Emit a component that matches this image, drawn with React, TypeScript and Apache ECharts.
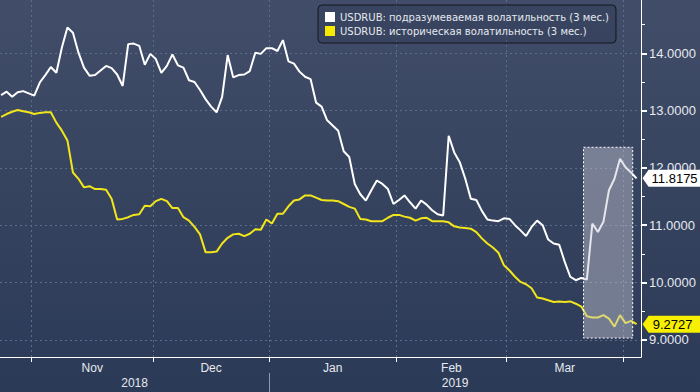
import React, { useEffect, useRef } from 'react';
import * as echarts from 'echarts';

const impliedName = 'USDRUB: подразумеваемая волатильность (3 мес.)';
const histName = 'USDRUB: историческая волатильность (3 мес.)';

// trading days from 24 Oct 2018 to 3 Apr 2019
const impliedVol = [
  13.27, 13.33, 13.24, 13.32, 13.34, 13.30, 13.26, 13.49, 13.62, 13.76,
  13.66, 14.10, 14.45, 14.36, 14.01, 13.75, 13.61, 13.62, 13.70, 13.78,
  13.74, 13.63, 13.43, 14.16, 14.17, 14.13, 13.80, 13.99, 13.90, 13.66,
  13.78, 13.98, 13.79, 13.75, 13.53, 13.50, 13.36, 13.20, 13.07, 12.97,
  13.24, 13.97, 13.58, 13.62, 13.63, 13.69, 14.01, 13.99, 14.09, 14.09,
  14.04, 14.23, 13.86, 13.82, 13.68, 13.59, 13.55, 13.14, 13.07, 12.83,
  12.74, 12.65, 12.29, 12.19, 11.72, 11.54, 11.43, 11.61, 11.78, 11.72,
  11.63, 11.37, 11.44, 11.52, 11.40, 11.29, 11.43, 11.36, 11.26, 11.19,
  11.17, 12.56, 12.27, 12.10, 11.81, 11.46, 11.44, 11.25, 11.10, 11.08,
  11.07, 11.12, 11.11, 11.00, 10.91, 10.81, 10.97, 11.08, 11.00, 10.75,
  10.68, 10.66, 10.36, 10.10, 10.04, 10.08, 10.05, 11.03, 10.88, 11.06,
  11.61, 11.81, 12.16, 12.01, 11.92, 11.8175,
];

const histVol = [
  12.89, 12.94, 12.98, 13.01, 12.99, 12.97, 12.94, 12.96, 12.97, 12.97,
  12.79, 12.65, 12.48, 11.92, 11.81, 11.66, 11.68, 11.63, 11.63, 11.62,
  11.46, 11.10, 11.11, 11.14, 11.18, 11.19, 11.34, 11.33, 11.42, 11.46,
  11.42, 11.30, 11.30, 11.14, 11.08, 10.97, 10.84, 10.53, 10.53, 10.54,
  10.68, 10.78, 10.84, 10.85, 10.81, 10.85, 10.93, 10.92, 11.10, 11.03,
  11.20, 11.20, 11.33, 11.43, 11.45, 11.52, 11.52, 11.48, 11.44, 11.43,
  11.43, 11.42, 11.37, 11.32, 11.29, 11.11, 11.10, 11.07, 11.07, 11.07,
  11.13, 11.18, 11.18, 11.15, 11.13, 11.08, 11.12, 11.13, 11.07, 11.07,
  11.07, 11.05, 10.98, 10.96, 10.95, 10.94, 10.88, 10.77, 10.68, 10.61,
  10.52, 10.30, 10.21, 10.10, 10.01, 9.97, 9.90, 9.74, 9.72, 9.69,
  9.66, 9.67, 9.66, 9.67, 9.63, 9.58, 9.41, 9.39, 9.39, 9.43,
  9.37, 9.23, 9.43, 9.29, 9.33, 9.2727,
];

const monthNames = ['Nov', 'Dec', 'Jan', 'Feb', 'Mar'];
// trading-day index boundaries where each month starts (Nov..Apr)
const monthBounds = [5.5, 27.5, 48.5, 71.5, 91.5, 112.5];
const yearNames = ['2018', '2019'];
const xMin = -0.2;
const xMax = 115.8;
const yearBounds = [xMin, 48.5, xMax];
const yMin = 8.7;
const yMax = 14.93;
const yTicks = [9, 10, 11, 12, 13, 14];
const yMinorTicks = [9.5, 10.5, 11.5, 12.5, 13.5, 14.5];
// highlighted window (trading-day index, value)
const boxFrom = [105.4, 12.36];
const boxTo = [114.3, 9.03];

const FONT = 'Liberation Sans';
const TXT = '#e6e9ef';
const GRIDC = '#5c6d8c';

const monthMids = monthNames.map((_, i) => (monthBounds[i] + monthBounds[i + 1]) / 2);
const yearMids = yearNames.map((_, i) => (yearBounds[i] + yearBounds[i + 1]) / 2);

function nearestName(v: number, mids: number[], names: string[]) {
  let best = 0;
  for (let i = 1; i < mids.length; i++) {
    if (Math.abs(mids[i] - v) < Math.abs(mids[best] - v)) best = i;
  }
  return names[best];
}

const pentagon = 'path://M0,8 L6,0 L60,0 L60,16 L6,16 Z';

export default function App() {
  const ref = useRef<HTMLDivElement>(null);
  useEffect(() => {
    if (!ref.current) return;
    const chart = echarts.init(ref.current, undefined, { renderer: 'svg' });
    const lastIdx = impliedVol.length - 1;
    chart.setOption({
      animation: false,
      backgroundColor: 'transparent',
      grid: { left: 0, right: 59, top: 0, bottom: 35, containLabel: false },
      legend: {
        left: 318,
        top: 5,
        orient: 'vertical',
        icon: 'rect',
        itemWidth: 10,
        itemHeight: 10,
        itemGap: 4,
        padding: [7, 7, 7, 7],
        backgroundColor: 'rgba(50,62,88,0.5)',
        borderColor: '#12161e',
        borderWidth: 1,
        borderRadius: 4,
        selectedMode: false,
        textStyle: { color: TXT, fontSize: 10, fontFamily: 'DejaVu Sans' },
        data: [impliedName, histName],
      },
      xAxis: [
        {
          type: 'value',
          min: xMin,
          max: xMax,
          position: 'bottom',
          axisLine: { show: true, onZero: false, lineStyle: { color: '#ffffff', width: 1 } },
          axisTick: { show: true, customValues: monthBounds, length: 5, lineStyle: { color: '#ffffff' } },
          axisLabel: {
            customValues: monthMids,
            formatter: (v: number) => nearestName(v, monthMids, monthNames),
            color: TXT,
            fontSize: 12,
            fontFamily: FONT,
            margin: 5,
          },
          splitLine: { show: true, lineStyle: { color: GRIDC, type: [2, 3], width: 1 } },
        },
        {
          type: 'value',
          min: xMin,
          max: xMax,
          position: 'bottom',
          offset: 16,
          axisLine: { show: false, onZero: false },
          axisTick: { show: true, customValues: [48.5], length: 20, lineStyle: { color: '#8d98ad' } },
          axisLabel: {
            customValues: yearMids,
            formatter: (v: number) => nearestName(v, yearMids, yearNames),
            color: TXT,
            fontSize: 12,
            fontFamily: FONT,
            margin: 4,
          },
          splitLine: { show: false },
        },
      ],
      yAxis: [
        {
          type: 'value',
          min: yMin,
          max: yMax,
          position: 'right',
          axisLine: { show: true, onZero: false, lineStyle: { color: '#ffffff', width: 1 } },
          axisTick: { show: true, customValues: yTicks, length: 6, lineStyle: { color: '#ffffff', width: 2 } },
          axisLabel: {
            customValues: yTicks,
            formatter: (v: number) => v.toFixed(4),
            color: TXT,
            fontSize: 13,
            fontFamily: FONT,
            margin: 8,
          },
          splitLine: { show: true, lineStyle: { color: GRIDC, type: [2, 3], width: 1 } },
        },
        {
          type: 'value',
          min: yMin,
          max: yMax,
          position: 'right',
          axisLine: { show: false, onZero: false },
          axisTick: { show: true, customValues: yMinorTicks, length: 4, lineStyle: { color: '#ffffff' } },
          axisLabel: { show: false },
          splitLine: { show: false },
        },
      ],
      series: [
        {
          name: impliedName,
          type: 'line',
          data: impliedVol.map((v, i) => [i, v]),
          showSymbol: false,
          symbol: 'none',
          z: 3,
          lineStyle: { color: '#ffffff', width: 2 },
          itemStyle: { color: '#ffffff' },
          markPoint: {
            symbol: pentagon,
            symbolSize: [60, 17],
            symbolOffset: [36, 0],
            symbolKeepAspect: false,
            itemStyle: { color: '#ffffff' },
            label: {
              show: true,
              position: 'inside',
              offset: [2, 0],
              color: '#000000',
              fontSize: 13,
              fontFamily: FONT,
              formatter: (p: any) => Number(p.value).toFixed(4),
            },
            data: [{ coord: [lastIdx, impliedVol[lastIdx]], value: impliedVol[lastIdx] }],
          },
        },
        {
          name: histName,
          type: 'line',
          data: histVol.map((v, i) => [i, v]),
          showSymbol: false,
          symbol: 'none',
          z: 2,
          lineStyle: { color: '#f2e61a', width: 2 },
          itemStyle: { color: '#f7ea00' },
          markPoint: {
            symbol: pentagon,
            symbolSize: [60, 17],
            symbolOffset: [36, 0],
            symbolKeepAspect: false,
            itemStyle: { color: '#f7ef00' },
            label: {
              show: true,
              position: 'inside',
              offset: [0, 0],
              color: '#000000',
              fontSize: 13,
              fontFamily: FONT,
              formatter: (p: any) => Number(p.value).toFixed(4),
            },
            data: [{ coord: [lastIdx, histVol[lastIdx]], value: histVol[lastIdx] }],
          },
          markArea: {
            silent: true,
            z: 5,
            itemStyle: {
              color: 'rgba(200,200,212,0.45)',
              borderColor: '#ffffff',
              borderWidth: 1,
              borderType: [2, 2],
            },
            data: [[{ coord: boxFrom }, { coord: boxTo }]],
          },
        },
      ],
    });
    return () => chart.dispose();
  }, []);
  return (
    <div
      style={{
        position: 'fixed',
        left: 0,
        top: 0,
        width: 700,
        height: 392,
        background: 'linear-gradient(to bottom, #414d69 0%, #36435f 50%, #2b3a57 100%)',
      }}
    >
      <div ref={ref} style={{ width: 700, height: 392 }} />
    </div>
  );
}
